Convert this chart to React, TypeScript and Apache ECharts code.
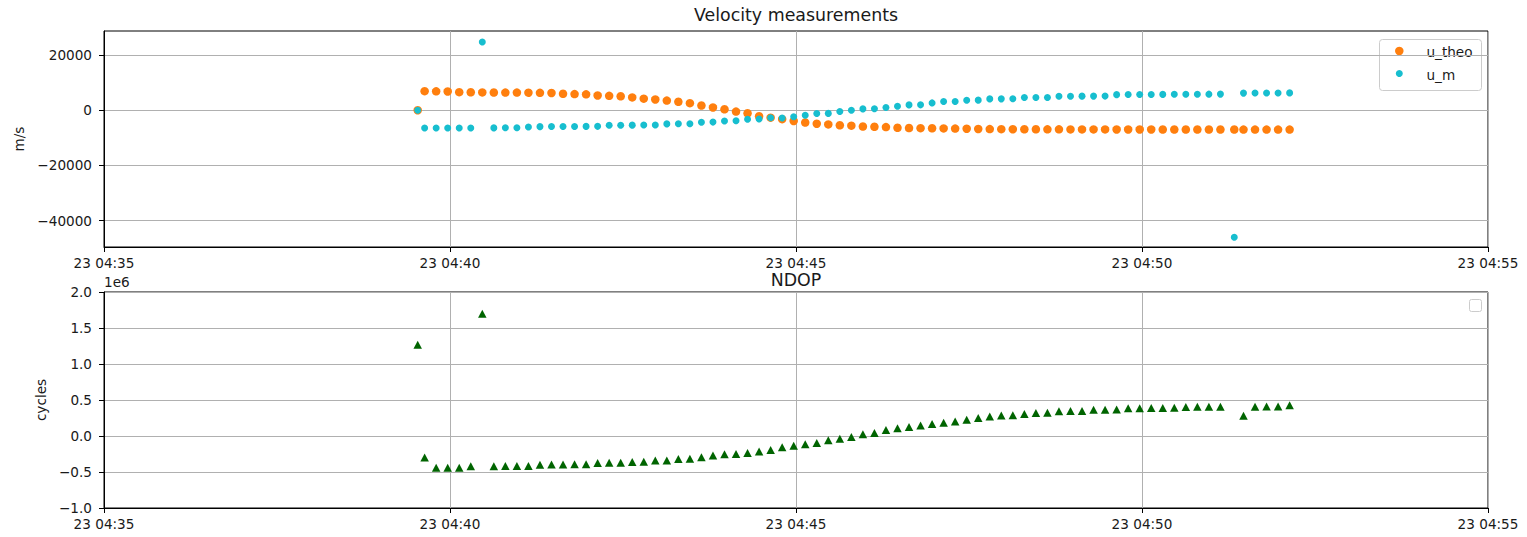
import { useEffect, useRef } from "react";
import * as echarts from "echarts";

// Sample timestamps (UTC, day 23)
const DAY = 23;
const times = [
  "04:39:32", "04:39:38", "04:39:48", "04:39:58", "04:40:08", "04:40:18", "04:40:28", "04:40:38",
  "04:40:48", "04:40:58", "04:41:08", "04:41:18", "04:41:28", "04:41:38", "04:41:48", "04:41:58",
  "04:42:08", "04:42:18", "04:42:28", "04:42:38", "04:42:48", "04:42:58", "04:43:08", "04:43:18",
  "04:43:28", "04:43:38", "04:43:48", "04:43:58", "04:44:08", "04:44:18", "04:44:28", "04:44:38",
  "04:44:48", "04:44:58", "04:45:08", "04:45:18", "04:45:28", "04:45:38", "04:45:48", "04:45:58",
  "04:46:08", "04:46:18", "04:46:28", "04:46:38", "04:46:48", "04:46:58", "04:47:08", "04:47:18",
  "04:47:28", "04:47:38", "04:47:48", "04:47:58", "04:48:08", "04:48:18", "04:48:28", "04:48:38",
  "04:48:48", "04:48:58", "04:49:08", "04:49:18", "04:49:28", "04:49:38", "04:49:48", "04:49:58",
  "04:50:08", "04:50:18", "04:50:28", "04:50:38", "04:50:48", "04:50:58", "04:51:08", "04:51:20",
  "04:51:28", "04:51:38", "04:51:48", "04:51:58", "04:52:08",
];

// Theoretical velocity (m/s)
const uTheo = [
  0, 6900, 6850, 6800, 6550, 6500, 6450, 6420, 6400, 6380, 6350, 6300, 6250, 5950, 5850, 5750,
  5350, 5200, 5050, 4650, 4200, 3900, 3500, 3050, 2550, 1700, 1000, 350, -500, -1100, -2200, -2700,
  -3250, -3900, -4450, -4900, -5150, -5450, -5600, -5900, -6000, -6100, -6350, -6450, -6500, -6550,
  -6600, -6650, -6700, -6800, -6830, -6860, -6880, -6900, -6910, -6920, -6930, -6940, -6950, -6955,
  -6960, -6965, -6970, -6975, -6980, -6985, -6990, -6990, -6995, -7000, -7000, -7000, -7005, -7005,
  -7010, -7010, -7010,
];

// Measured velocity (m/s)
const uM = [
  0, -6450, -6450, -6440, -6430, -6420, 24700, -6400, -6380, -6350, -6100, -5950, -5920, -5900,
  -5880, -5860, -5840, -5450, -5420, -5400, -5380, -5350, -4950, -4920, -4900, -4350, -4300, -3880,
  -3820, -3300, -3200, -2700, -2800, -2350, -1810, -1200, -1150, -480, 0, 480, 520, 965, 1450, 1930,
  1950, 2650, 3130, 3150, 3620, 3650, 4100, 4120, 4150, 4580, 4600, 4620, 5060, 5080, 5100, 5110,
  5120, 5650, 5680, 5700, 5720, 5740, 5760, 5780, 5800, 5820, 5840, -46040, 6200, 6220, 6240, 6260,
  6280,
];

// NDOP (cycles); null where no sample was recorded
const ndop: (number | null)[] = [
  1266000, -299000, -442000, -442000, -440000, -419000, 1699000, -419000, -418000, -417000,
  -415000, -398000, -396000, -395000, -394000, -392000, -375000, -373000, -371000, -360000,
  -358000, -342000, -340000, -319000, -316000, -295000, -272000, -255000, -251000, -235000,
  -216000, -193000, -157000, -134000, -115000, -97000, -60000, -37000, -14000, 23000, 41000,
  83000, 106000, 124000, 147000, 166000, 184000, 203000, 226000, 249000, 272000, 284000, 287000,
  304000, 320000, 324000, 343000, 346000, 348000, 363000, 365000, 367000, 385000, 387000, 389000,
  390000, 392000, 404000, 405000, 406000, 407000, null, 280000, 406000, 408000, 410000, 428000,
];

const velocityTicks = [-40000, -20000, 0, 20000];

const THEO_NAME = "u_theo";
const MEAS_NAME = "u_m";
const THEO_COLOR = "#ff7f0e";
const MEAS_COLOR = "#17becf";
const NDOP_COLOR = "#006400";

const FONT = "DejaVu Sans";
const TEXT = "#1a1a1a";
const GRIDLINE = "#b0b0b0";
const TICK_FS = 13.6;
const TITLE_FS = 17.4;

const toMs = (t: string) => {
  const [h, m, s] = t.split(":").map(Number);
  return Date.UTC(2022, 0, DAY, h, m, s);
};
const X_MIN = Date.UTC(2022, 0, DAY, 4, 35, 0);
const X_MAX = Date.UTC(2022, 0, DAY, 4, 55, 0);
const pad2 = (n: number) => String(n).padStart(2, "0");
const fmtTime = (v: number) => {
  const d = new Date(v);
  return `${pad2(d.getUTCDate())} ${pad2(d.getUTCHours())}:${pad2(d.getUTCMinutes())}`;
};
const minus = (s: string) => s.replace("-", "\u2212");

const pairs = (vals: (number | null)[]) =>
  times.map((t, i) => [toMs(t), vals[i]]).filter((p) => p[1] !== null);

function xAxisFor(gridIndex: number) {
  return {
    type: "value",
    gridIndex,
    min: X_MIN,
    max: X_MAX,
    interval: 5 * 60 * 1000,
    axisLine: { show: true, onZero: false, lineStyle: { color: "#000", width: 1 } },
    axisTick: { show: true, length: 5, lineStyle: { color: "#000", width: 1 } },
    axisLabel: {
      formatter: (v: number) => fmtTime(v),
      color: TEXT,
      fontSize: TICK_FS,
      fontFamily: FONT,
      margin: 9,
      showMinLabel: true,
      showMaxLabel: true,
      hideOverlap: false,
    },
    splitLine: { show: true, lineStyle: { color: GRIDLINE, width: 1 } },
  };
}

// Framed legend box in the upper-right corner of the velocity panel
function legendGraphic() {
  const textStyle = { fontSize: TICK_FS, fontFamily: FONT, fill: TEXT, verticalAlign: "middle" };
  return {
    type: "group",
    z: 100,
    children: [
      {
        type: "rect",
        shape: { x: 1379.5, y: 39.5, width: 102, height: 51, r: 3 },
        style: { fill: "rgba(255,255,255,0.8)", stroke: "#cccccc", lineWidth: 1 },
      },
      { type: "circle", shape: { cx: 1399.3, cy: 51, r: 4.25 }, style: { fill: THEO_COLOR } },
      { type: "text", x: 1426.5, y: 52, style: { ...textStyle, text: THEO_NAME } },
      { type: "circle", shape: { cx: 1399.3, cy: 73.5, r: 3.5 }, style: { fill: MEAS_COLOR } },
      { type: "text", x: 1426.5, y: 74.5, style: { ...textStyle, text: MEAS_NAME } },
    ],
  };
}

export default function App() {
  const ref = useRef<HTMLDivElement>(null);

  useEffect(() => {
    if (!ref.current) return;
    const chart = echarts.init(ref.current, undefined, { renderer: "svg" });

    const option = {
      animation: false,
      backgroundColor: "#ffffff",
      textStyle: { fontFamily: FONT },
      title: [
        {
          text: "Velocity measurements",
          left: 796,
          top: 6,
          textAlign: "center",
          padding: 0,
          textStyle: { fontSize: TITLE_FS, fontWeight: "normal", color: TEXT, fontFamily: FONT },
        },
        {
          text: "NDOP",
          left: 796,
          top: 271,
          textAlign: "center",
          padding: 0,
          textStyle: { fontSize: TITLE_FS, fontWeight: "normal", color: TEXT, fontFamily: FONT },
        },
      ],
      grid: [
        { left: 104, top: 31, width: 1384, height: 216, show: true, borderColor: "#000", borderWidth: 1, backgroundColor: "transparent" },
        { left: 104, top: 292, width: 1384, height: 216, show: true, borderColor: "#000", borderWidth: 1, backgroundColor: "transparent" },
      ],
      xAxis: [xAxisFor(0), xAxisFor(1)],
      yAxis: [
        {
          type: "value",
          gridIndex: 0,
          min: -49550,
          max: 28700,
          name: "m/s",
          nameLocation: "middle",
          nameRotate: 90,
          nameGap: 76,
          nameTextStyle: { fontSize: TICK_FS, color: TEXT, fontFamily: FONT },
          axisLine: { show: true, onZero: false, lineStyle: { color: "#000", width: 1 } },
          axisTick: { show: true, length: 5, customValues: velocityTicks, lineStyle: { color: "#000", width: 1 } },
          axisLabel: {
            customValues: velocityTicks,
            formatter: (v: number) => minus(String(v)),
            color: TEXT,
            fontSize: TICK_FS,
            fontFamily: FONT,
            margin: 12,
          },
          splitLine: { show: true, lineStyle: { color: GRIDLINE, width: 1 } },
        },
        {
          type: "value",
          gridIndex: 1,
          min: -1000000,
          max: 2000000,
          interval: 500000,
          name: "cycles",
          nameLocation: "middle",
          nameRotate: 90,
          nameGap: 55,
          nameTextStyle: { fontSize: TICK_FS, color: TEXT, fontFamily: FONT },
          axisLine: { show: true, onZero: false, lineStyle: { color: "#000", width: 1 } },
          axisTick: { show: true, length: 5, lineStyle: { color: "#000", width: 1 } },
          axisLabel: {
            formatter: (v: number) => minus((v / 1e6).toFixed(1)),
            color: TEXT,
            fontSize: TICK_FS,
            fontFamily: FONT,
            margin: 12,
            showMinLabel: true,
            showMaxLabel: true,
          },
          splitLine: { show: true, lineStyle: { color: GRIDLINE, width: 1 } },
        },
      ],
      graphic: [
        {
          type: "text",
          left: 104,
          top: 275,
          style: { text: "1e6", fontSize: TICK_FS, fontFamily: FONT, fill: TEXT },
        },
        legendGraphic(),
        {
          // empty legend frame of the NDOP panel
          type: "rect",
          shape: { x: 1469.5, y: 299.5, width: 12, height: 12, r: 2 },
          style: { fill: "rgba(255,255,255,0.8)", stroke: "#cccccc", lineWidth: 1 },
          z: 100,
        },
      ],
      series: [
        {
          name: THEO_NAME,
          type: "scatter",
          xAxisIndex: 0,
          yAxisIndex: 0,
          symbol: "circle",
          symbolSize: 8.5,
          itemStyle: { color: THEO_COLOR, opacity: 1 },
          data: pairs(uTheo),
        },
        {
          name: MEAS_NAME,
          type: "scatter",
          xAxisIndex: 0,
          yAxisIndex: 0,
          symbol: "circle",
          symbolSize: 7,
          itemStyle: { color: MEAS_COLOR, opacity: 1 },
          data: pairs(uM),
        },
        {
          name: "NDOP",
          type: "scatter",
          xAxisIndex: 1,
          yAxisIndex: 1,
          symbol: "triangle",
          symbolSize: [8.5, 8],
          itemStyle: { color: NDOP_COLOR, opacity: 1 },
          data: pairs(ndop),
        },
      ],
    };

    chart.setOption(option as any);
    return () => chart.dispose();
  }, []);

  return (
    <div
      ref={ref}
      style={{ position: "absolute", left: 0, top: 0, width: 1527, height: 537, background: "#fff" }}
    />
  );
}
